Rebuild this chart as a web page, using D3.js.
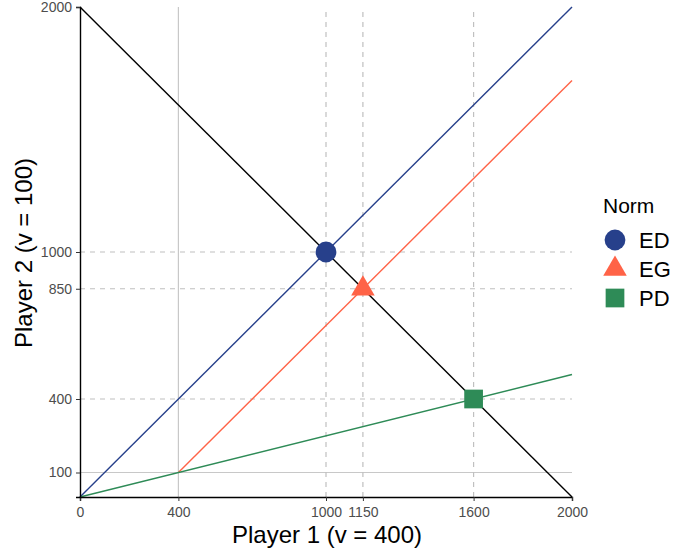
<!DOCTYPE html>
<html><head><meta charset="utf-8">
<script src="https://cdn.jsdelivr.net/npm/d3@7"></script>
<style>body{margin:0;background:#fff;font-family:Arial,"Liberation Sans",sans-serif;}</style>
</head><body><svg id="c" width="676" height="552"></svg>
<script>
const xTicks = [0, 400, 1000, 1150, 1600, 2000];
const yTicks = [100, 400, 850, 1000, 2000];
const solidX = [400], solidY = [100];
const dashedX = [1000, 1150, 1600], dashedY = [400, 850, 1000];
const lineNames = ["budget", "ED", "EG", "PD"];
const lineStart = [[0, 2000], [0, 0], [400, 100], [0, 0]];
const lineEnd = [[2000, 0], [2000, 2000], [2000, 1700], [2000, 500]];
const lineColors = ["#000000", "#27408B", "#FF6347", "#2E8B57"];
const norms = ["ED", "EG", "PD"];
const normX = [1000, 1150, 1600];
const normY = [1000, 850, 400];
const normColors = ["#27408B", "#FF6347", "#2E8B57"];
const normShapes = [d3.symbolCircle, d3.symbolTriangle, d3.symbolSquare];
const normSizes = [340, 240, 350];

const svg = d3.select("#c");
const x = d3.scaleLinear().domain([0, 2000]).range([80, 572]);
const y = d3.scaleLinear().domain([0, 2000]).range([497, 7]);
const FONT = "Arial, Liberation Sans, sans-serif";

const g = svg.append("g");
solidX.forEach(v => g.append("line").attr("x1", x(v)).attr("x2", x(v)).attr("y1", y(0)).attr("y2", y(2000)).attr("stroke", "#c8c8c8").attr("stroke-width", 1.2));
solidY.forEach(v => g.append("line").attr("x1", x(0)).attr("x2", x(2000)).attr("y1", y(v)).attr("y2", y(v)).attr("stroke", "#c8c8c8").attr("stroke-width", 1.2));
dashedX.forEach(v => g.append("line").attr("x1", x(v)).attr("x2", x(v)).attr("y1", y(0)).attr("y2", y(2000)).attr("stroke", "#c0c0c0").attr("stroke-width", 1.2).attr("stroke-dasharray", "5,5"));
dashedY.forEach(v => g.append("line").attr("x1", x(0)).attr("x2", x(2000)).attr("y1", y(v)).attr("y2", y(v)).attr("stroke", "#c0c0c0").attr("stroke-width", 1.2).attr("stroke-dasharray", "5,5"));

lineNames.forEach((n, i) => {
  g.append("line").attr("x1", x(lineStart[i][0])).attr("y1", y(lineStart[i][1]))
   .attr("x2", x(lineEnd[i][0])).attr("y2", y(lineEnd[i][1]))
   .attr("stroke", lineColors[i]).attr("stroke-width", 1.4);
});

const xAxis = svg.append("g").attr("transform", `translate(0,${y(0)})`)
  .call(d3.axisBottom(x).tickValues(xTicks).tickFormat(d3.format("d")).tickSizeOuter(0).tickSize(4).tickPadding(6));
const yAxis = svg.append("g").attr("transform", `translate(${x(0)},0)`)
  .call(d3.axisLeft(y).tickValues(yTicks).tickFormat(d3.format("d")).tickSizeOuter(0).tickSize(4).tickPadding(4));
[xAxis, yAxis].forEach(a => {
  a.select(".domain").attr("stroke", "#000").attr("stroke-width", 1.4);
  a.selectAll(".tick line").attr("stroke", "#333");
  a.selectAll(".tick text").attr("fill", "#4d4d4d").style("font-size", "14px").style("font-family", FONT);
});

norms.forEach((n, i) => {
  svg.append("path").attr("d", d3.symbol().type(normShapes[i]).size(normSizes[i])())
    .attr("transform", `translate(${x(normX[i])},${y(normY[i])})`)
    .attr("fill", normColors[i]);
});

svg.append("text").attr("x", (x(0) + x(2000)) / 2 + 1).attr("y", 543).attr("text-anchor", "middle")
  .style("font-size", "24px").style("font-family", FONT).attr("fill", "#000").text("Player 1 (v = 400)");
svg.append("text").attr("transform", `translate(32,${(y(0) + y(2000)) / 2 + 1}) rotate(-90)`).attr("text-anchor", "middle")
  .style("font-size", "24px").style("font-family", FONT).attr("fill", "#000").text("Player 2 (v = 100)");

const lg = svg.append("g");
lg.append("text").attr("x", 603).attr("y", 213).style("font-size", "21px").style("font-family", FONT).attr("fill", "#000").text("Norm");
norms.forEach((n, i) => {
  const cy = 240 + i * 29;
  lg.append("path").attr("d", d3.symbol().type(normShapes[i]).size(normSizes[i])())
    .attr("transform", `translate(615,${cy})`).attr("fill", normColors[i]);
  lg.append("text").attr("x", 639).attr("y", cy + 8).style("font-size", "22px").style("font-family", FONT).attr("fill", "#000").text(n);
});
</script></body></html>
